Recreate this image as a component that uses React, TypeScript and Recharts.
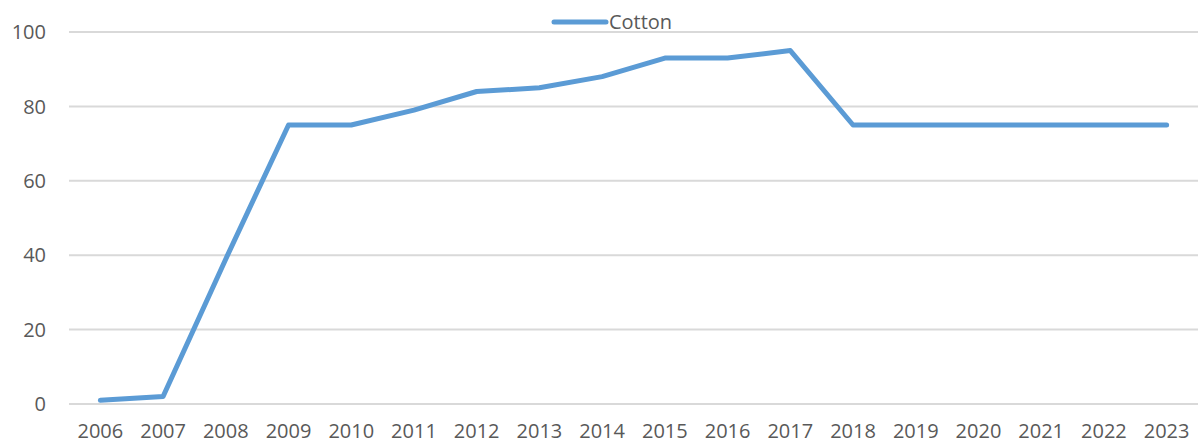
import { LineChart, Line, XAxis, YAxis, CartesianGrid, Legend } from 'recharts';

const years = ['2006', '2007', '2008', '2009', '2010', '2011', '2012', '2013', '2014', '2015', '2016', '2017', '2018', '2019', '2020', '2021', '2022', '2023'];
const cotton = [1, 2, 39, 75, 75, 79, 84, 85, 88, 93, 93, 95, 75, 75, 75, 75, 75, 75];
const yTicks = [0, 20, 40, 60, 80, 100];

const data = years.map((year, i) => ({ year, Cotton: cotton[i] }));

const LINE_COLOR = '#5b9bd5';
const TEXT_COLOR = '#595959';
const FONT = '"Open Sans", sans-serif';

function CottonLegend() {
  return (
    <div style={{ display: 'flex', justifyContent: 'center', alignItems: 'center', height: 32, paddingLeft: 25, position: 'relative', top: 6 }}>
      <svg width={58} height={8} style={{ marginRight: 0 }}>
        <line x1={3} y1={4} x2={55} y2={4} stroke={LINE_COLOR} strokeWidth={5} strokeLinecap="round" />
      </svg>
      <span style={{ fontFamily: FONT, fontSize: 20, color: TEXT_COLOR, lineHeight: '24px' }}>Cotton</span>
    </div>
  );
}

export default function App() {
  const band = (1198 - 69) / years.length / 2;
  return (
    <div style={{ position: 'absolute', left: 0, top: 0, background: '#fff' }}>
      <LineChart width={1198} height={444} data={data} margin={{ top: 0, right: 0, bottom: 0, left: 0 }}>
        <CartesianGrid vertical={false} stroke="#d9d9d9" strokeWidth={2} />
        <XAxis
          dataKey="year"
          axisLine={false}
          tickLine={false}
          tickSize={0}
          tickMargin={20}
          height={40}
          interval={0}
          padding={{ left: band, right: band }}
          tick={{ fill: TEXT_COLOR, fontSize: 20, fontFamily: FONT }}
        />
        <YAxis
          domain={[0, 100]}
          ticks={yTicks}
          axisLine={false}
          tickLine={false}
          tickSize={0}
          tickMargin={23}
          width={69}
          tick={{ fill: TEXT_COLOR, fontSize: 20, fontFamily: FONT }}
        />
        <Legend verticalAlign="top" height={32} content={<CottonLegend />} />
        <Line
          type="linear"
          dataKey="Cotton"
          stroke={LINE_COLOR}
          strokeWidth={5}
          strokeLinecap="round"
          strokeLinejoin="round"
          dot={false}
          isAnimationActive={false}
        />
      </LineChart>
    </div>
  );
}
